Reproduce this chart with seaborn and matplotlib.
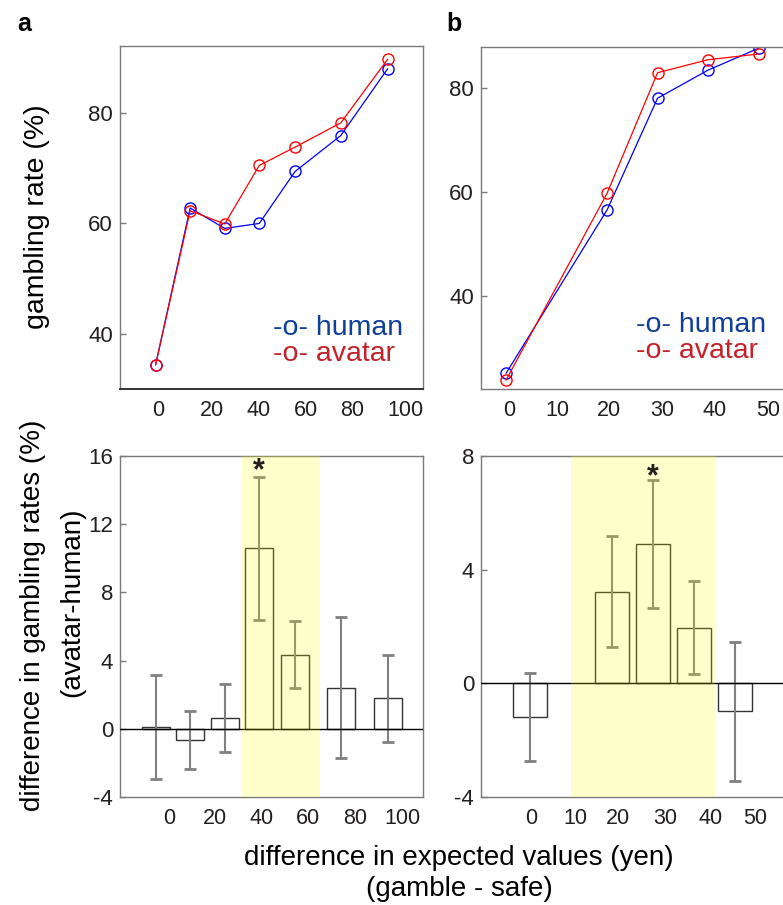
import matplotlib
matplotlib.use("Agg")
import matplotlib.pyplot as plt
import numpy as np
import pandas as pd
import seaborn as sns

# expected-value differences (yen) of each condition
ev_a = [-1, 13, 27, 41, 55.5, 74, 93]
ev_b = [0, 20, 30, 40, 50]

# gambling rates (%)
human_a = [34.4, 62.8, 59.1, 60.0, 69.4, 75.9, 88.0]
avatar_a = [34.4, 62.3, 59.9, 70.5, 73.8, 78.2, 89.7]
human_b = [25.1, 56.5, 78.0, 83.4, 87.6]
avatar_b = [23.8, 59.7, 82.9, 85.4, 86.5]

# avatar - human differences (%) and their s.e.m.
diff_a = [0.1, -0.67, 0.65, 10.6, 4.34, 2.41, 1.8]
sem_a = [3.04, 1.69, 2.0, 4.19, 1.97, 4.12, 2.55]
diff_b = [-1.18, 3.23, 4.9, 1.96, -0.98]
sem_b = [1.55, 1.94, 2.25, 1.64, 2.44]
sig_a = [3]
sig_b = [2]

xlabels_a = ["0", "20", "40", "60", "80", "100"]
xlabels_b = ["0", "10", "20", "30", "40", "50"]
yticks_top_a = [40, 60, 80]
yticks_top_b = [40, 60, 80]
yticks_bot_a = [-4, 0, 4, 8, 12, 16]
yticks_bot_b = [-4, 0, 4, 8]

sns.set_theme(style="white")
plt.rcParams["font.family"] = ["Liberation Sans", "DejaVu Sans"]
plt.rcParams["axes.unicode_minus"] = False

W, H = 783, 905
fig = plt.figure(figsize=(W / 100, H / 100), dpi=100)


def px_axes(left, top, right, bottom):
    return fig.add_axes([left / W, 1 - bottom / H, (right - left) / W, (bottom - top) / H])


SPINE = "#7a7a7a"
TXT = "#231f20"
BLUE_TXT = "#0f3f98"
RED_TXT = "#c4212b"


def style(ax):
    for s in ax.spines.values():
        s.set_color(SPINE)
        s.set_linewidth(1.0)
    ax.tick_params(axis="y", direction="in", length=4, width=1, color=SPINE,
                   labelsize=16, pad=5, labelcolor=TXT, left=True)
    ax.tick_params(axis="x", length=0, labelsize=15.5, pad=8, labelcolor=TXT)
    ax.set_xlabel("")
    ax.set_ylabel("")


def rates(ax, x, human, avatar):
    for y, c in ((human, "#0000ff"), (avatar, "#ff0000")):
        sns.lineplot(x=x, y=y, ax=ax, color=c, lw=0.9, marker="o", markersize=8,
                     markerfacecolor="none", markeredgecolor=c, markeredgewidth=1.0,
                     sort=False)


def legend_text(ax, x, y):
    ax.text(x, y, "-o- human", transform=ax.transAxes, fontsize=20.5, color=BLUE_TXT,
            va="center", ha="left")
    ax.text(x, y - 0.075, "-o- avatar", transform=ax.transAxes, fontsize=20.5,
            color=RED_TXT, va="center", ha="left")


def diffs(ax, x, d, e, width_units, shade, sig, star_off):
    df = pd.DataFrame({"ev": x, "diff": d})
    native = np.min(np.diff(sorted(x)))
    sns.barplot(data=df, x="ev", y="diff", native_scale=True, color="white",
                saturation=1, edgecolor="#333333", linewidth=1.0,
                width=width_units / native, errorbar=None, ax=ax, zorder=2)
    eb = ax.errorbar(x, d, yerr=e, fmt="none", ecolor="#808080", elinewidth=1.5,
                     capsize=4.5, capthick=2, zorder=3)
    for cap in eb[1]:
        cap.set_color("black")
    ax.axhline(0, color="black", lw=1, zorder=4)
    for i in sig:
        ax.annotate("*", xy=(x[i], d[i] + e[i]), xytext=(0, star_off),
                    textcoords="offset points", ha="center", va="center",
                    fontsize=22, fontweight="bold", color="#231f20", zorder=7)
    ax.axvspan(shade[0], shade[1], color="#ffff00", alpha=0.2, lw=0, zorder=6)


# ---- a, gambling rates ----
ax1 = px_axes(120, 46, 423, 389)
rates(ax1, ev_a, human_a, avatar_a)
ax1.set_xlim(-15.4, 107.3)
ax1.set_ylim(30.05, 92.1)
ax1.set_yticks(yticks_top_a)
ax1.set_xticks([0, 21.9, 40.9, 59.9, 78.5, 100], xlabels_a)
style(ax1)
ax1.spines["bottom"].set_color("#333333")
ax1.spines["bottom"].set_linewidth(1.4)
legend_text(ax1, 0.505, 0.177)

# ---- b, gambling rates ----
ax2 = px_axes(481, 46.7, 800, 389)
rates(ax2, ev_b, human_b, avatar_b)
ax2.set_xlim(-4.95, 58.2)
ax2.set_ylim(22.1, 87.9)
ax2.set_yticks(yticks_top_b)
ax2.set_xticks([0.6, 10.2, 20.4, 30.9, 41.2, 51.9], xlabels_b)
style(ax2)
legend_text(ax2, 0.487, 0.187)

# ---- a, differences ----
ax3 = px_axes(120, 456, 423, 797)
diffs(ax3, ev_a, diff_a, sem_a, 11.3, (33.9, 65.7), sig_a, 4)
ax3.set_xlim(-15.4, 107.3)
ax3.set_ylim(-4, 16)
ax3.set_yticks(yticks_bot_a)
ax3.set_xticks([4.5, 23.1, 42.1, 60.7, 79.8, 98.8], xlabels_a)
style(ax3)

# ---- b, differences ----
ax4 = px_axes(481, 456, 800, 797)
diffs(ax4, ev_b, diff_b, sem_b, 8.1, (10.1, 45.1), sig_b, 2)
ax4.set_xlim(-11.95, 65.85)
ax4.set_ylim(-4, 8)
ax4.set_yticks(yticks_bot_b)
ax4.set_xticks([0.2, 11.1, 21.4, 32.9, 44.1, 55.0], xlabels_b)
style(ax4)

# labels
fig.text(37 / W, 1 - 217 / H, "gambling rate (%)", rotation=90, fontsize=20.5,
         ha="center", va="center", color="black")
fig.text(33 / W, 1 - 615 / H, "difference in gambling rates (%)", rotation=90,
         fontsize=20, ha="center", va="center", color="black")
fig.text(72 / W, 1 - 602 / H, "(avatar-human)", rotation=90, fontsize=20,
         ha="center", va="center", color="black")
fig.text(459 / W, 1 - 858 / H, "difference in expected values (yen)", fontsize=20,
         ha="center", va="center", color="black")
fig.text(459 / W, 1 - 889 / H, "(gamble - safe)", fontsize=20,
         ha="center", va="center", color="black")
fig.text(17 / W, 1 - 31 / H, "a", fontsize=18, fontweight="bold", ha="left",
         va="baseline", color="black")
fig.text(446 / W, 1 - 31 / H, "b", fontsize=18, fontweight="bold", ha="left",
         va="baseline", color="black")

fig.savefig("out.png", dpi=100, facecolor="white")
